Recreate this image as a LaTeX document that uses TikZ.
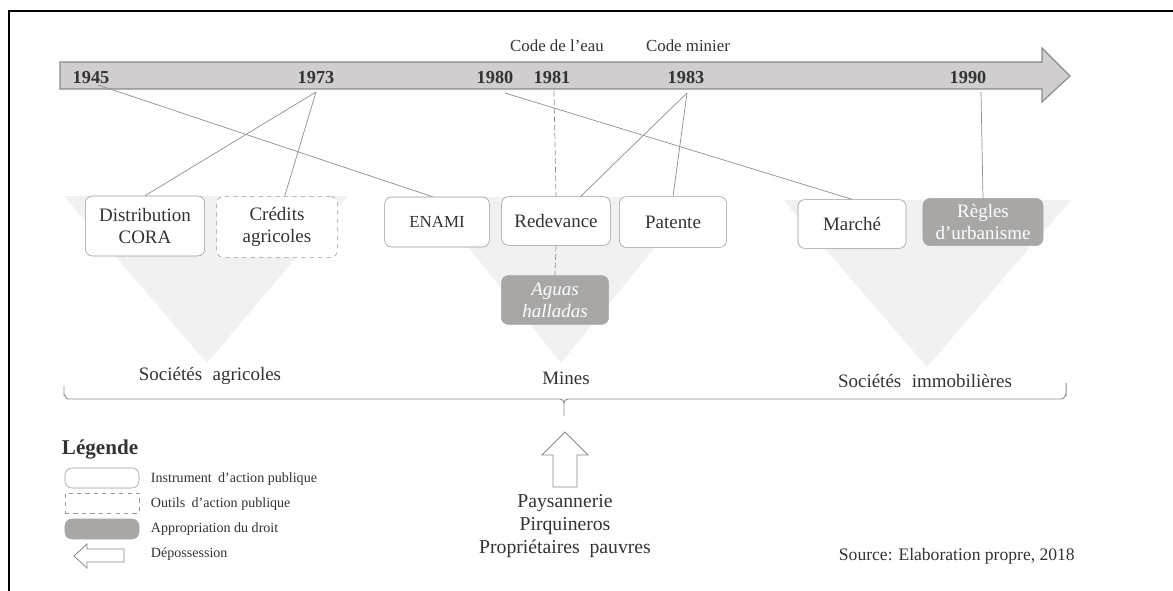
\documentclass[tikz,border=0pt]{standalone}
\usepackage{fontspec}
\setmainfont{Liberation Serif}
\usepackage{tikz}

\definecolor{txt}{HTML}{333333}
\definecolor{boxgray}{HTML}{989898}
\definecolor{droitgray}{HTML}{A9A6A6}
\definecolor{linkgray}{HTML}{8E8E8E}
\definecolor{arrowfill}{HTML}{D0CECE}
\definecolor{arrowedge}{HTML}{8A8A8A}
\definecolor{trigray}{HTML}{F1F1F1}

\begin{document}
\begin{tikzpicture}[x=0.025cm,y=-0.025cm]
      % \tikzset{every node/.style={draw=red}}
      \tikzset{instr/.style={draw=boxgray, fill=white, rounded corners=5pt, align=center, inner sep=1pt,
                             font=\fontsize{13.5}{15.5}\selectfont, text=txt}}
      \tikzset{outil/.style={instr, dashed}}
      \tikzset{droit/.style={instr, draw=droitgray, fill=droitgray, text=white}}
      \tikzset{annee/.style={font=\bfseries\fontsize{13}{15}\selectfont, text=txt}}
      \tikzset{code/.style={font=\fontsize{12}{14}\selectfont, text=txt}}
      \tikzset{lien/.style={draw=linkgray, line width=0.5pt}}
      \tikzset{etiq/.style={font=\fontsize{13.5}{15}\selectfont, text=txt}}
      \tikzset{leg/.style={font=\fontsize{10}{12}\selectfont, text=txt, anchor=west}}
      \tikzset{creux/.style={draw=arrowedge, fill=white, line width=0.6pt, line join=miter}}
      \useasboundingbox (0,0) rectangle (1173,591);
      \draw[line width=1.2pt] (1173,11) -- (9,11) -- (9,591);
      % triangles
      \fill[trigray] (64,196) -- (348,196) -- (207,363) -- cycle;
      \fill[trigray] (428,197) -- (696,197) -- (561,363) -- cycle;
      \fill[trigray] (783,200) -- (1071,200) -- (927,367) -- cycle;
      % frise
      \draw[draw=arrowedge, fill=arrowfill, line width=0.8pt, line join=miter]
            (60,62) -- (1042,62) -- (1042,48) -- (1070,76) -- (1042,102) -- (1042,89) -- (60,89) -- cycle;
      \node[annee] (y1945) at (91,78) {1945};
      \node[annee] (y1973) at (316,78) {1973};
      \node[annee] (y1980) at (495,78) {1980};
      \node[annee] (y1981) at (552,78) {1981};
      \node[annee] (y1983) at (686,78) {1983};
      \node[annee] (y1990) at (968,78) {1990};
      \node[code] (eau) at (557,46) {Code de l'eau};
      \node[code] (minier) at (688,46) {Code minier};
      \coordinate (p1945) at (98,85);
      \coordinate (p1973) at (316,92);
      \coordinate (p1980) at (505,93);
      \coordinate (p1981) at (554,91);
      \coordinate (p1983) at (687,93);
      \coordinate (p1990) at (981,92);
      % instruments
      \node[instr, minimum width=2.98cm, minimum height=1.5cm] (cora) at (145,226) {Distribution\\CORA};
      \node[outil, minimum width=3.02cm, minimum height=1.52cm] (credit) at (277,227) {Crédits\\agricoles};
      \node[instr, minimum width=2.62cm, minimum height=1.25cm] (enami) at (437,222) {\fontsize{12}{14}\selectfont ENAMI};
      \node[instr, minimum width=2.72cm, minimum height=1.22cm] (redevance) at (556,221) {Redevance};
      \node[instr, minimum width=2.68cm, minimum height=1.27cm] (patente) at (673,222) {Patente};
      \node[instr, minimum width=2.7cm, minimum height=1.22cm] (marche) at (852,224) {Marché};
      \node[droit, minimum width=3.0cm, minimum height=1.18cm] (regles) at (983,222) {Règles\\d'urbanisme};
      \node[droit, minimum width=2.68cm, minimum height=1.22cm, font=\itshape\fontsize{13.5}{15.5}\selectfont] (aguas) at (555,300) {Aguas\\halladas};
      % liens
      \draw[lien] (p1945) -- (enami.100);
      \draw[lien] (p1973) -- (cora.north);
      \draw[lien] (p1973) -- (credit.76);
      \draw[lien] (p1980) -- (marche.north);
      \draw[lien, dash pattern=on 4pt off 2pt] (p1981) -- (redevance.north);
      \draw[lien, dash pattern=on 4pt off 2pt] (redevance.south) -- (aguas.north);
      \draw[lien] (p1983) -- (redevance.45);
      \draw[lien] (p1983) -- (patente.north);
      \draw[lien] (p1990) -- (regles.north);
      % secteurs
      \node[etiq] (agri) at (210,376) {Sociétés\hspace{0.3em} agricoles};
      \node[etiq] (mines) at (566,378) {Mines};
      \node[etiq] (immo) at (925,381) {Sociétés\hspace{0.3em} immobilières};
      \draw[linkgray, line width=0.7pt] (64,386) -- (64,395) to[out=90,in=180] (68,399) -- (560,399)
            to[out=0,in=90] (564,403) -- (564,416);
      \draw[linkgray, line width=0.7pt] (564,403) to[out=90,in=180] (568,399) -- (1062,399)
            to[out=0,in=90] (1066,395) -- (1066,383);
      % depossession
      \draw[creux] (565,432) -- (588,455) -- (577,455) -- (577,487) -- (553,487) -- (553,455) -- (542,455) -- cycle;
      \node[etiq, align=center, font=\fontsize{14}{16.4}\selectfont] (acteurs) at (565,526)
            {Paysannerie\\Pirquineros\\Propriétaires\hspace{0.25em} pauvres};
      % legende
      \node[font=\bfseries\fontsize{15}{17}\selectfont, text=txt, anchor=west] (legende) at (57,449) {Légende};
      \node[instr, minimum width=1.85cm, minimum height=0.5cm] (l1) at (102,478) {};
      \node[outil, rounded corners=0pt, minimum width=1.85cm, minimum height=0.5cm] (l2) at (102,503) {};
      \node[droit, minimum width=1.85cm, minimum height=0.5cm] (l3) at (102,529) {};
      \draw[creux] (74,556) -- (87,544) -- (87,549) -- (124,549) -- (124,562) -- (87,562) -- (87,568) -- cycle;
      \node[leg] (t1) at (146,479) {Instrument\hspace{0.2em} d'action publique};
      \node[leg] (t2) at (146,504) {Outils\hspace{0.2em} d'action publique};
      \node[leg] (t3) at (146,529) {Appropriation du droit};
      \node[leg] (t4) at (146,554) {Dépossession};
      \node[font=\fontsize{12.5}{14}\selectfont, text=txt, anchor=west] (source) at (834,556) {Source: Elaboration propre, 2018};
\end{tikzpicture}
\end{document}
